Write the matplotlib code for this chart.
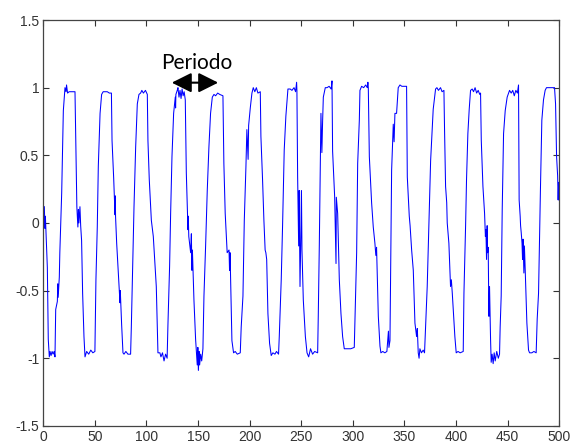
import matplotlib
matplotlib.use('Agg')
import matplotlib.pyplot as plt

# signal, one list of (sample, value) per cycle
cycle00 = [(1, 0.12), (1.5, -0.04), (2, 0.05), (2.5, -0.05), (3.9, -0.33), (4.8, -0.86), (5.8, -0.99),
           (6.5, -0.95), (7.5, -0.98), (8.5, -0.95), (9.5, -0.97), (10.5, -0.95), (11.3, -0.99)]
cycle01 = [(12, -0.64), (13.6, -0.58), (14, -0.45), (14.4, -0.55), (15.5, -0.40), (16, -0.22), (17.8, 0.22),
           (19.4, 0.83), (21, 1.0), (22, 0.97), (22.5, 1.02), (23.5, 0.96), (25, 0.97), (28, 0.97), (30.7, 0.97),
           (31.7, 0.47), (32.5, 0.12), (33, 0.05), (33.5, -0.03), (34, 0.1), (34.5, 0.0), (35.5, 0.12),
           (36.2, -0.02), (37.1, -0.13), (38.1, -0.52), (39.4, -0.84), (40.4, -0.99),
           (42, -0.95), (44, -0.97), (46, -0.94), (48, -0.96), (50, -0.95)]
cycle02 = [(51, -0.42), (52.3, -0.03), (53.3, 0.42), (55, 0.81), (56.5, 0.95), (58, 0.97),
           (60, 0.97), (62, 0.97), (64, 0.96), (66, 0.96),
           (66.6, 0.61), (68.2, 0.33), (69.5, 0.06), (69.8, 0.2), (70, 0.05), (71.1, -0.15), (73, -0.42),
           (74.3, -0.59), (74.6, -0.5), (75.9, -0.75), (77.2, -0.96), (78.2, -0.97),
           (80, -0.95), (82, -0.97), (84.6, -0.97)]
cycle03 = [(85.3, -0.77), (86.3, -0.42), (87.9, 0.12), (89.5, 0.56), (91.1, 0.88), (92.7, 0.95), (94.3, 0.96),
           (95.5, 0.98), (97, 0.96), (99, 0.98), (100.8, 0.95),
           (101.4, 0.61), (102.7, 0.32), (104.7, 0.02), (106.6, -0.10), (108.2, -0.30), (109.5, -0.47),
           (111.1, -0.96), (113, -0.96),
           (114, -0.99), (115.5, -0.96), (117, -1.02), (118.5, -0.97), (120, -1.0)]
cycle04 = [(120.8, -0.75), (122.4, -0.32), (123.4, 0.07), (124.7, 0.49), (126.3, 0.81), (127.9, 0.93),
           (128.2, 0.85), (128.5, 0.95), (129.8, 0.98),
           (130.5, 1.0), (131.5, 0.93), (132.5, 0.98), (133.5, 0.92), (134.5, 0.99), (135.5, 0.94),
           (136.5, 0.97), (137.6, 0.91),
           (138.6, 0.37), (140.2, -0.05), (140.5, 0.05), (141, -0.1), (142.8, -0.22), (143.5, -0.08),
           (144, -0.35), (144.5, -0.2), (146, -0.57), (147.6, -0.86), (149.2, -1.05), (149.8, -0.92),
           (150.3, -1.09), (151, -0.95), (151.5, -1.05),
           (152.5, -0.97), (153.5, -1.02), (154.7, -0.93)]
cycle05 = [(155.7, -0.54), (157.3, -0.17), (158.9, 0.24), (160.5, 0.56), (162.1, 0.81), (163.8, 0.93),
           (165.4, 0.95), (167, 0.94), (169, 0.96), (171, 0.95), (174.1, 0.94),
           (175, 0.44), (176.3, 0.07), (178.2, -0.22), (180, -0.2), (180.5, -0.35), (181, -0.22),
           (182.2, -0.66), (182.8, -0.87), (184.4, -0.96),
           (186, -0.95), (188, -0.97), (190.9, -0.96)]
cycle06 = [(191.8, -0.77), (193.5, -0.54), (194.8, 0.02), (196.4, 0.42), (197.3, 0.69), (198.5, 0.47),
           (199, 0.72), (200.6, 0.85), (202.2, 0.96),
           (203.5, 1.0), (205, 0.97), (206.5, 1.0), (208, 0.96), (210.3, 0.97),
           (210.9, 0.64), (212.5, 0.32), (213.8, 0.02), (214.5, -0.1), (215, -0.2), (215.7, -0.22),
           (216.5, -0.27), (217.7, -0.67), (219.3, -0.89), (220.9, -0.98),
           (222.5, -0.96), (224.5, -0.97), (226, -0.95), (228, -0.97)]
cycle07 = [(228.7, -0.84), (230.6, -0.42), (231.9, -0.02), (233.5, 0.54), (235.1, 0.79), (237.1, 0.99),
           (239.3, 0.99), (241, 0.98), (243, 1.0), (244.5, 0.97), (245.5, 1.04), (245.8, 0.98),
           (246.5, 0.34), (247.5, -0.17), (248, 0.24), (248.8, -0.47), (249.5, -0.15), (250.2, 0.24),
           (250.7, -0.2), (252, -0.57), (254, -0.84), (255.6, -0.96), (257.2, -0.99),
           (259, -0.93), (261, -0.97), (263, -0.95), (265.9, -0.96)]
cycle08 = [(266.5, -0.69), (267.5, -0.17), (268.5, 0.44), (269.1, 0.81), (270, 0.52), (270.7, 0.75),
           (271.4, 0.93), (273.3, 1.0), (275, 1.0), (277, 1.01), (279, 0.99), (279.8, 1.05),
           (280.4, 0.53), (282.4, 0.19), (283.7, -0.30), (284, 0.19), (285.3, 0.07), (286.9, -0.42),
           (288.5, -0.67), (290.1, -0.84), (291.7, -0.93),
           (295, -0.93), (298, -0.93), (301.4, -0.92)]
cycle09 = [(302.4, -0.62), (303.7, -0.22), (304.7, 0.44), (306.3, 0.76), (306.9, 0.98),
           (308.5, 1.01), (310.5, 1.0), (312.5, 1.02), (314, 1.0), (314.6, 1.04), (315, 1.0),
           (316, 0.49), (318.2, 0.15), (319.8, -0.03), (321.4, -0.15), (322.3, -0.24), (323, -0.18),
           (324.7, -0.69), (326.3, -0.91), (327.2, -0.96),
           (329, -0.95), (331, -0.96), (333, -0.95), (334.5, -0.80), (335, -0.92), (336, -0.87)]
cycle10 = [(337.6, 0.39), (339.2, 0.73), (340, 0.60), (340.8, 0.81), (342.4, 0.81), (344, 1.0), (345.7, 1.02),
           (347.5, 1.01), (350, 1.01), (352.1, 1.01),
           (352.8, 0.34), (354.7, 0.05), (355.5, -0.02), (357, -0.2), (358.6, -0.35), (360.2, -0.74),
           (361.8, -0.84), (362.5, -0.78), (363.4, -0.96), (364.2, -1.0), (365, -0.93),
           (366.5, -0.96), (368.2, -0.94), (369.5, -0.96)]
cycle11 = [(370.5, -0.77), (372.1, -0.47), (373.7, -0.03), (375.4, 0.46), (377.9, 0.84), (380.2, 0.99),
           (381.5, 1.0), (383, 0.98), (385, 1.0), (386.5, 0.97), (388.3, 0.98),
           (388.9, 0.69), (389.9, 0.27), (391, 0.15), (391.5, -0.0), (393.1, -0.15), (394.7, -0.47),
           (395.5, -0.42), (396.4, -0.52), (397.3, -0.64), (398.9, -0.84), (400.2, -0.96),
           (402, -0.95), (404, -0.96), (407, -0.95)]
cycle12 = [(407.7, -0.52), (409.3, -0.02), (410.2, 0.32), (411.5, 0.66), (412.8, 0.84), (414.1, 0.98),
           (415.7, 0.99), (417, 0.97), (418.5, 1.0), (420, 0.96), (421.5, 0.98), (423, 0.95), (423.8, 0.96),
           (424.5, 0.61), (426.1, 0.27), (427.7, 0.07), (428.5, -0.1), (429, -0.05), (429.6, -0.27),
           (430.2, -0.02), (430.6, -0.22), (431.2, -0.18), (431.9, -0.69), (432.5, -0.47), (433.5, -0.86),
           (434.1, -1.03), (435, -0.97), (436, -1.04), (437, -0.96), (438, -1.02), (439.5, -0.95),
           (441, -1.0), (442.2, -0.97)]
cycle13 = [(442.8, -0.77), (443.8, -0.54), (444.8, 0.1), (446.1, 0.66), (447.7, 0.83), (449.6, 0.93),
           (451.9, 0.98), (453.5, 0.96), (455, 0.98), (456.5, 0.94), (458, 0.98), (459.5, 0.96), (460.6, 1.02),
           (461.2, 0.17), (462.2, 0.05), (462.6, -0.02), (463.2, -0.07), (464, -0.15), (464.5, -0.27),
           (465, -0.12), (465.8, -0.37), (466.3, -0.17), (467.1, -0.35), (468.7, -0.74), (470.3, -0.94),
           (471.3, -0.96), (473.5, -0.96), (475.5, -0.95), (477.7, -0.96)]
cycle14 = [(478.7, -0.71), (480, -0.52), (481, -0.08), (481.9, 0.27), (483.2, 0.76), (484.8, 0.91),
           (486.4, 0.98), (487.7, 1.0), (490, 1.0), (493, 1.0), (495.5, 1.0),
           (496.5, 0.88), (497.5, 0.49), (498.5, 0.35), (499, 0.17), (499.5, 0.3), (500, 0.17)]

cycles = [cycle00, cycle01, cycle02, cycle03, cycle04, cycle05, cycle06, cycle07,
          cycle08, cycle09, cycle10, cycle11, cycle12, cycle13, cycle14]
t = [p[0] for c in cycles for p in c]
v = [p[1] for c in cycles for p in c]

x_ticks = [0, 50, 100, 150, 200, 250, 300, 350, 400, 450, 500]
y_ticks = [-1.5, -1, -0.5, 0, 0.5, 1, 1.5]
y_labels = ['-1.5', '-1', '-0.5', '0', '0.5', '1', '1.5']

label_text = 'Periodo'
arrow_from = (124.5, 1.037)
arrow_to = (169.5, 1.037)
label_pos = (149, 1.14)

plt.rcParams['font.family'] = ['Liberation Sans', 'DejaVu Sans']

fig = plt.figure(figsize=(5.7, 4.45), dpi=100)
ax = fig.add_axes([0.076, 0.043, 0.905, 0.912])

ax.plot(t, v, color='#0000ff', linewidth=0.75)

ax.set_xlim(0, 500)
ax.set_ylim(-1.5, 1.5)
ax.set_xticks(x_ticks)
ax.set_yticks(y_ticks)
ax.set_yticklabels(y_labels)
ax.tick_params(direction='in', length=4, width=0.8, colors='#333333', labelsize=10,
               top=True, right=True, pad=3)
for s in ax.spines.values():
    s.set_color('#444444')
    s.set_linewidth(0.9)

# the period marker
ax.annotate('', xy=arrow_to, xytext=arrow_from,
            arrowprops=dict(arrowstyle='<|-|>,head_length=1.0,head_width=0.5',
                            color='black', lw=1.5, shrinkA=0, shrinkB=0, mutation_scale=12))
ax.text(label_pos[0], label_pos[1], label_text, ha='center', va='baseline',
        fontsize=15, family=['Lato', 'DejaVu Sans'], color='black')

fig.savefig('out.png', dpi=100, facecolor='white')
